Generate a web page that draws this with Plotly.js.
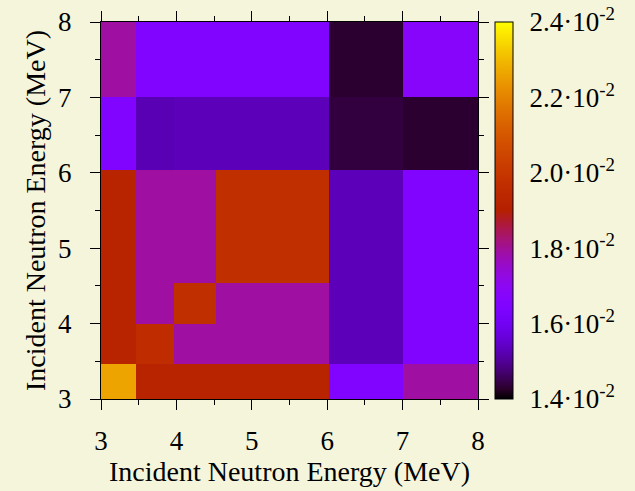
<!DOCTYPE html>
<html>
<head>
<meta charset="utf-8">
<script src="https://cdn.plot.ly/plotly-3.0.1.min.js"></script>
<style>html,body{margin:0;padding:0;background:#f5f5dc;}</style>
</head>
<body>
<div id="chart" style="width:635px;height:491px;"></div>
<script>
// Bin edges (MeV)
const xEdges = [3, 3.46, 3.97, 4.53, 6.02, 7.0, 8];
const yEdges = [3, 3.47, 3.99, 4.54, 6.04, 7.0, 8];

// Values per row, bottom (y=3) to top (y=8)
const row0 = [0.0226, 0.0192, 0.0192, 0.0192, 0.0165, 0.0179];
const row1 = [0.0192, 0.0196, 0.0179, 0.0179, 0.0153, 0.0165];
const row2 = [0.0192, 0.0179, 0.0197, 0.0179, 0.0153, 0.0165];
const row3 = [0.0192, 0.0179, 0.0179, 0.0197, 0.0153, 0.0165];
const row4 = [0.0165, 0.01525, 0.0153, 0.0153, 0.0144, 0.0143];
const row5 = [0.0179, 0.0165, 0.0165, 0.0165, 0.0143, 0.0168];

const cbTickVals = [0.014, 0.016, 0.018, 0.020, 0.022, 0.024];
const cbTickText = ['1.4·10<sup>-2</sup>', '1.6·10<sup>-2</sup>', '1.8·10<sup>-2</sup>',
                    '2.0·10<sup>-2</sup>', '2.2·10<sup>-2</sup>', '2.4·10<sup>-2</sup>'];
const zMin = 0.014, zMax = 0.024;

// gnuplot default palette (rgbformulae 7,5,15)
const colorscale = [];
for (let k = 0; k <= 40; k++) {
  const t = k / 40;
  const r = Math.round(255 * Math.sqrt(t));
  const g = Math.round(255 * Math.pow(t, 3));
  const b = Math.round(255 * Math.max(0, Math.sin(2 * Math.PI * t)));
  colorscale.push([t, `rgb(${r},${g},${b})`]);
}

const FONT = 'Liberation Serif';

const trace = {
  type: 'heatmap',
  x: xEdges,
  y: yEdges,
  z: [row0, row1, row2, row3, row4, row5],
  zmin: zMin, zmax: zMax,
  colorscale: colorscale,
  zsmooth: false,
  hoverinfo: 'skip',
  colorbar: {
    x: (495 - 101) / 377, xanchor: 'left', xpad: 0,
    y: 0.5, yanchor: 'middle', ypad: 0,
    len: 1, lenmode: 'fraction',
    thickness: 18, thicknessmode: 'pixels',
    outlinewidth: 1, outlinecolor: '#000',
    tickvals: cbTickVals, ticktext: cbTickText,
    ticks: 'outside', ticklen: 11, tickcolor: 'rgba(0,0,0,0)',
    tickfont: {family: FONT, size: 27, color: '#000'}
  }
};

const bx0 = (495 - 101) / 377, bx1 = (513 - 101) / 377;
const shapes = cbTickVals.slice(1, -1).map(v => ({
  type: 'line', xref: 'paper', yref: 'paper',
  x0: bx0, x1: bx1, y0: (v - zMin) / (zMax - zMin), y1: (v - zMin) / (zMax - zMin),
  line: {color: '#000', width: 1, dash: '5px,3px'}
}));

const axisCommon = {
  range: [3, 8],
  dtick: 1, tick0: 3,
  ticks: 'outside', ticklen: 10, tickwidth: 1, tickcolor: '#000',
  showline: true, linecolor: '#000', linewidth: 1, mirror: 'ticks',
  showgrid: false, zeroline: false,
  minor: {dtick: 0.5, ticks: 'outside', ticklen: 5, tickcolor: '#000', showgrid: false},
  tickfont: {family: FONT, size: 27, color: '#000'}
};

const layout = {
  width: 635, height: 491,
  margin: {l: 101, r: 157, t: 22, b: 92},
  paper_bgcolor: '#f5f5dc',
  plot_bgcolor: '#f5f5dc',
  xaxis: Object.assign({}, axisCommon, {
    ticklabelstandoff: 8,
    title: {text: 'Incident Neutron Energy (MeV)', font: {family: FONT, size: 28, color: '#000'}, standoff: 5}
  }),
  yaxis: Object.assign({}, axisCommon, {
    ticklabelstandoff: 13,
    title: {text: 'Incident Neutron Energy (MeV)', font: {family: FONT, size: 28, color: '#000'}, standoff: 4}
  }),
  shapes: shapes,
  showlegend: false
};

Plotly.newPlot('chart', [trace], layout, {displayModeBar: false, staticPlot: true});
</script>
</body>
</html>
